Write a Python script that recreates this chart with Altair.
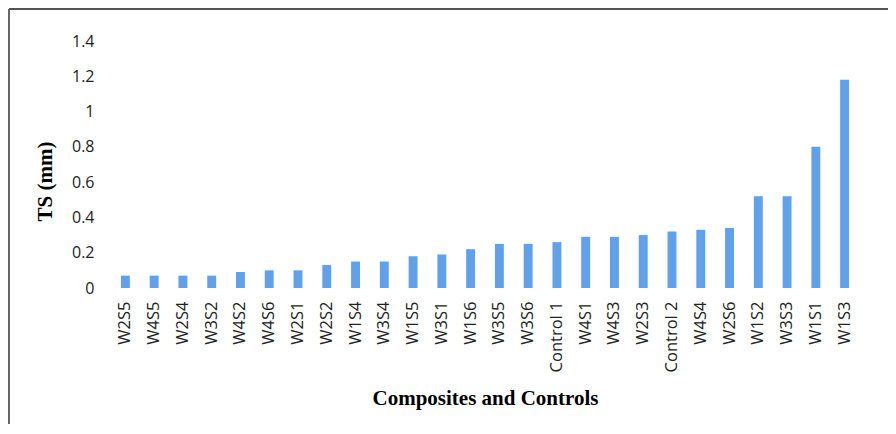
import altair as alt
import pandas as pd

categories = ["W2S5", "W4S5", "W2S4", "W3S2", "W4S2", "W4S6", "W2S1", "W2S2", "W1S4", "W3S4",
              "W1S5", "W3S1", "W1S6", "W3S5", "W3S6", "Control 1", "W4S1", "W4S3", "W2S3",
              "Control 2", "W4S4", "W2S6", "W1S2", "W3S3", "W1S1", "W1S3"]
ts_values = [0.07, 0.07, 0.07, 0.07, 0.09, 0.10, 0.10, 0.13, 0.15, 0.15,
             0.18, 0.19, 0.22, 0.25, 0.25, 0.26, 0.29, 0.29, 0.30,
             0.32, 0.33, 0.34, 0.52, 0.52, 0.80, 1.18]
y_ticks = [0, 0.2, 0.4, 0.6, 0.8, 1.0, 1.2, 1.4]

df = pd.DataFrame({"cat": categories, "ts": ts_values})

W, H = 748, 247

bars = alt.Chart(df).mark_bar(color="#61A0EA").encode(
    x=alt.X("cat:N", sort=categories,
            scale=alt.Scale(paddingInner=0.69, paddingOuter=0.345),
            axis=alt.Axis(title="Composites and Controls", labelAngle=270,
                          labelAlign="right", labelBaseline="middle",
                          labelFont="Open Sans", labelFontSize=16.5, labelColor="#222",
                          labelPadding=13, ticks=False, domain=False,
                          titleFont="Liberation Serif", titleFontWeight="bold",
                          titleFontSize=21, titleColor="#000",
                          titleY=110, titleBaseline="middle")),
    y=alt.Y("ts:Q", scale=alt.Scale(domain=[0, 1.4], nice=False),
            axis=alt.Axis(title="TS (mm)", values=y_ticks, grid=False, domain=False,
                          ticks=False, labelPadding=17,
                          labelExpr="datum.value == 0 ? '0' : format(datum.value, '.1~f')",
                          labelFont="Open Sans", labelFontSize=16, labelColor="#222",
                          titleFont="Liberation Serif", titleFontWeight="bold",
                          titleFontSize=21, titleColor="#000", titleAngle=270,
                          titleX=-66, titleY=140, titleAlign="center",
                          titleBaseline="middle")),
)

top_border = alt.Chart(df).mark_rule(color="#555", strokeWidth=1).encode(
    x=alt.value(-102), x2=alt.value(900), y=alt.value(-32)
)
left_border = alt.Chart(df).mark_rule(color="#666", strokeWidth=1).encode(
    x=alt.value(-102), y=alt.value(-32), y2=alt.value(500)
)

chart = alt.layer(bars, top_border, left_border).properties(
    width=W, height=H,
    background="white",
    autosize=alt.AutoSizeParams(type="none"),
    padding={"left": 103, "top": 33, "right": 29, "bottom": 136},
).configure_view(stroke="transparent", strokeWidth=0)

chart.save("out.html", embed_options={"renderer": "svg", "actions": False})
